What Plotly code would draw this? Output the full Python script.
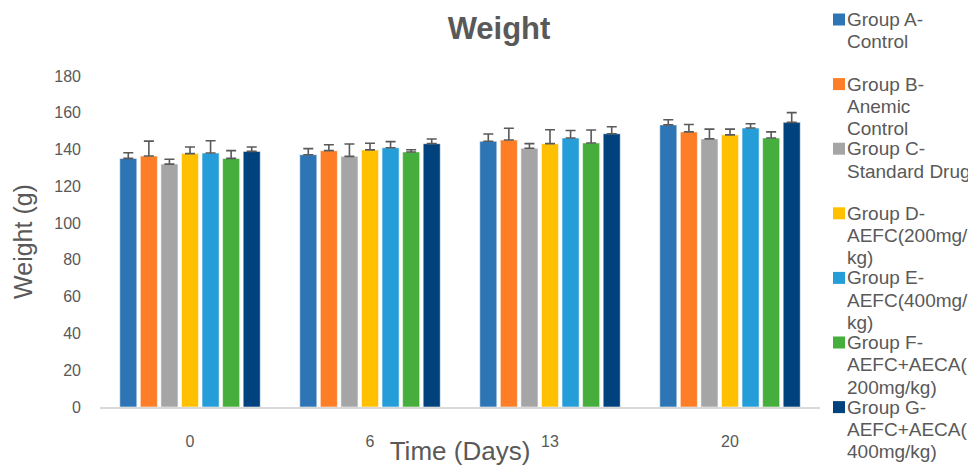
import plotly.graph_objects as go

# ---- data ----
days = ["0", "6", "13", "20"]
group_names = [
    "Group A-Control",
    "Group B-Anemic Control",
    "Group C-Standard Drug",
    "Group D-AEFC(200mg/kg)",
    "Group E-AEFC(400mg/kg)",
    "Group F-AEFC+AECA(200mg/kg)",
    "Group G-AEFC+AECA(400mg/kg)",
]
legend_lines = [
    ["Group A-", "Control"],
    ["Group B-", "Anemic", "Control"],
    ["Group C-", "Standard Drug"],
    ["Group D-", "AEFC(200mg/", "kg)"],
    ["Group E-", "AEFC(400mg/", "kg)"],
    ["Group F-", "AEFC+AECA(", "200mg/kg)"],
    ["Group G-", "AEFC+AECA(", "400mg/kg)"],
]
group_a = [135.2, 137.2, 144.5, 153.4]
group_b = [136.5, 139.4, 145.2, 149.6]
group_c = [132.1, 136.3, 140.7, 145.8]
group_d = [137.8, 139.8, 143.2, 148.0]
group_e = [138.1, 141.0, 146.3, 151.7]
group_f = [135.2, 138.7, 143.6, 146.3]
group_g = [139.0, 143.2, 148.6, 154.8]
err_a = [3.1, 3.3, 4.0, 2.8]
err_b = [8.1, 3.2, 6.4, 4.0]
err_c = [2.6, 6.7, 2.5, 5.3]
err_d = [3.6, 3.6, 7.6, 3.1]
err_e = [6.7, 3.3, 4.1, 2.3]
err_f = [4.2, 1.2, 7.0, 3.3]
err_g = [2.4, 2.5, 3.8, 5.3]
y_ticks = [0, 20, 40, 60, 80, 100, 120, 140, 160, 180]

# ---- styling ----
colors = ["#2E75B6", "#FD7E27", "#A5A5A5", "#FFC000", "#259DD8", "#45AE3C", "#00427E"]
values = [group_a, group_b, group_c, group_d, group_e, group_f, group_g]
errors = [err_a, err_b, err_c, err_d, err_e, err_f, err_g]
TXT = "#595959"
FONT = "Liberation Sans, Arial, sans-serif"

OFF = 8  # page body margin
W, H = 976 - OFF, 466 - OFF
L, R, T, B = 100 - OFF, 156, 76 - OFF, 59
PW, PH = W - L - R, H - T - B


def px_x(page_px):
    return (page_px - OFF - L) / PW


def px_y(page_py):
    return (H - B - (page_py - OFF)) / PH


fig = go.Figure()
for name, vals, errs, col in zip(group_names, values, errors, colors):
    fig.add_trace(go.Bar(
        x=days, y=vals, name=name,
        marker=dict(color=col, line=dict(color="rgba(255,255,255,0.55)", width=1)),
        error_y=dict(type="data", symmetric=False, array=errs,
                     arrayminus=[0] * len(errs), color=TXT, thickness=1.6, width=5),
        showlegend=False,
    ))

# legend drawn as annotations + squares (to match the original line spacing)
annotations = []
shapes = []
first_line_y = 19.5
item_step = 64.6
line_step = 22.3
for i, (lines, col) in enumerate(zip(legend_lines, colors)):
    y0 = first_line_y + item_step * i
    shapes.append(dict(type="rect", xref="paper", yref="paper",
                       x0=px_x(833), x1=px_x(845), y0=px_y(y0 - 6), y1=px_y(y0 + 6),
                       fillcolor=col, line=dict(width=0)))
    for j, t in enumerate(lines):
        annotations.append(dict(text=t, xref="paper", yref="paper",
                                x=px_x(845), y=px_y(y0 + line_step * j),
                                xanchor="left", yanchor="middle", showarrow=False,
                                font=dict(family=FONT, size=19, color=TXT)))

fig.update_layout(
    width=W, height=H,
    margin=dict(l=L, r=R, t=T, b=B, autoexpand=False),
    paper_bgcolor="white", plot_bgcolor="white",
    barmode="group", bargap=0.2, bargroupgap=0.17,
    title=dict(text="<b>Weight</b>", x=px_x(499), xref="paper", xanchor="center",
               y=1 - (28 - OFF) / H, yref="container", yanchor="middle",
               font=dict(family=FONT, size=31, color=TXT)),
    xaxis=dict(type="category", showline=True, linecolor="#D9D9D9", linewidth=2,
               showgrid=False, zeroline=False, ticks="",
               ticklabelstandoff=19,
               tickfont=dict(family=FONT, size=16, color=TXT),
               title=dict(text="Time (Days)", standoff=2,
                          font=dict(family=FONT, size=26, color=TXT))),
    yaxis=dict(range=[0, 180], tickvals=y_ticks, showline=False, showgrid=False,
               zeroline=False, ticks="", ticklabelstandoff=18,
               tickfont=dict(family=FONT, size=16, color=TXT),
               title=dict(text="Weight (g)", standoff=14,
                          font=dict(family=FONT, size=25, color=TXT))),
    annotations=annotations,
    shapes=shapes,
)

fig.write_html("out.html")
